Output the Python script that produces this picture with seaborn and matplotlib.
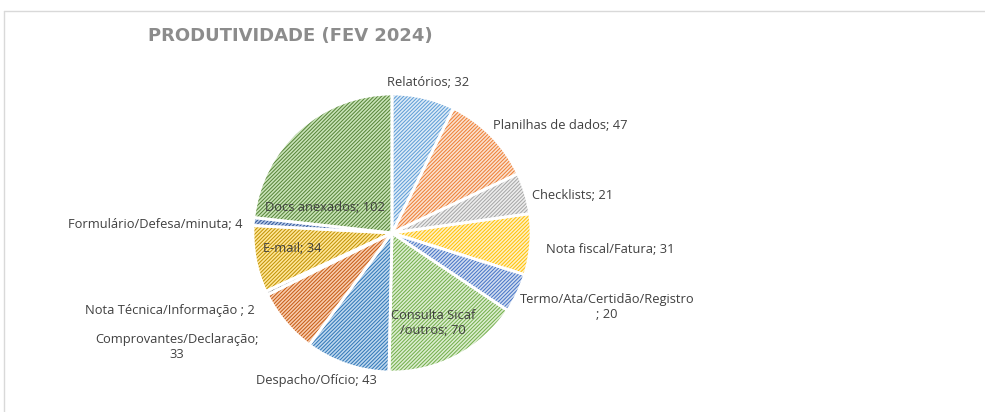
import matplotlib
matplotlib.use("Agg")
import matplotlib.pyplot as plt
import seaborn as sns
from matplotlib.lines import Line2D
import numpy as np

# ---- data ----
categories = ["Relatórios", "Planilhas de dados", "Checklists", "Nota fiscal/Fatura",
              "Termo/Ata/Certidão/Registro", "Consulta Sicaf\n/outros", "Despacho/Ofício",
              "Comprovantes/Declaração", "Nota Técnica/Informação ", "E-mail",
              "Formulário/Defesa/minuta", "Docs anexados"]
values = [32, 47, 21, 31, 20, 70, 43, 33, 2, 34, 4, 102]
label_texts = ["Relatórios; 32", "Planilhas de dados; 47", "Checklists; 21",
               "Nota fiscal/Fatura; 31", "Termo/Ata/Certidão/Registro\n; 20",
               "Consulta Sicaf\n/outros; 70", "Despacho/Ofício; 43",
               "Comprovantes/Declaração;\n33", "Nota Técnica/Informação ; 2",
               "E-mail; 34", "Formulário/Defesa/minuta; 4", "Docs anexados; 102"]
title = "PRODUTIVIDADE (FEV 2024)"

# ---- styles ----
hatch_colors = ["#5B9BD5", "#ED7D31", "#A5A5A5", "#FFC000", "#4472C4", "#70AD47",
                "#2E75B6", "#C55A11", "#7F7F7F", "#BF9000", "#2F5597", "#548235"]
face_colors = ["#DDEBF7", "#FBE0CE", "#EDEDED", "#FFF0C2", "#D0DCF0", "#DCEDD0",
               "#BDD7EE", "#F8CBAD", "#DBDBDB", "#FFE699", "#B4C7E7", "#C9E3B8"]
# label anchors in pie-radius units (dx, dy) and alignment
label_pos = [(0.259, 1.086, "center"), (0.727, 0.770, "left"), (1.007, 0.273, "left"),
             (1.108, -0.122, "left"), (1.547, -0.532, "center"), (0.295, -0.647, "center"),
             (-0.547, -1.058, "center"), (-1.547, -0.820, "center"), (-1.597, -0.554, "center"),
             (-0.719, -0.108, "center"), (-1.705, 0.058, "center"), (-0.482, 0.180, "center")]

sns.set_theme(style="white")
plt.rcParams["font.family"] = ["Open Sans", "DejaVu Sans"]
plt.rcParams["hatch.linewidth"] = 0.7

W, H = 985, 412
cx, cy, R = 392, 233, 139
fig = plt.figure(figsize=(W / 100, H / 100), dpi=100)
ax = fig.add_axes([0, 0, 1, 1])

wedges, _ = ax.pie(values, startangle=90, counterclock=False, radius=1,
                   colors=face_colors, frame=False,
                   wedgeprops=dict(linewidth=0))
for w, hc in zip(wedges, hatch_colors):
    w.set_hatch("/////////")
    w.set_edgecolor(hc)
    w.set_linewidth(0)

# white separators
ax.pie(values, startangle=90, counterclock=False, radius=1, colors=["none"] * len(values),
       frame=False, wedgeprops=dict(linewidth=2.0, edgecolor="white", fill=False))

ax.set_xlim(-cx / R, (W - cx) / R)
ax.set_ylim(-(H - cy) / R, cy / R)
ax.set_aspect("auto")
ax.axis("off")

for txt, (dx, dy, ha) in zip(label_texts, label_pos):
    ax.text(dx, dy, txt, ha=ha, va="center", fontsize=9.3, color="#404040",
            multialignment="center", linespacing=1.2)

fig.text(148 / W, 1 - 36 / H, title, ha="left", va="center", fontsize=13,
         fontweight="bold", color="#8C8C8C", family="DejaVu Sans")

# chart frame
fig.add_artist(Line2D([4 / W, 4 / W], [0, 1 - 11 / H], color="#D9D9D9", lw=1))
fig.add_artist(Line2D([4 / W, 1], [1 - 11 / H, 1 - 11 / H], color="#D9D9D9", lw=1))

fig.savefig("out.png", dpi=100, facecolor="white")
